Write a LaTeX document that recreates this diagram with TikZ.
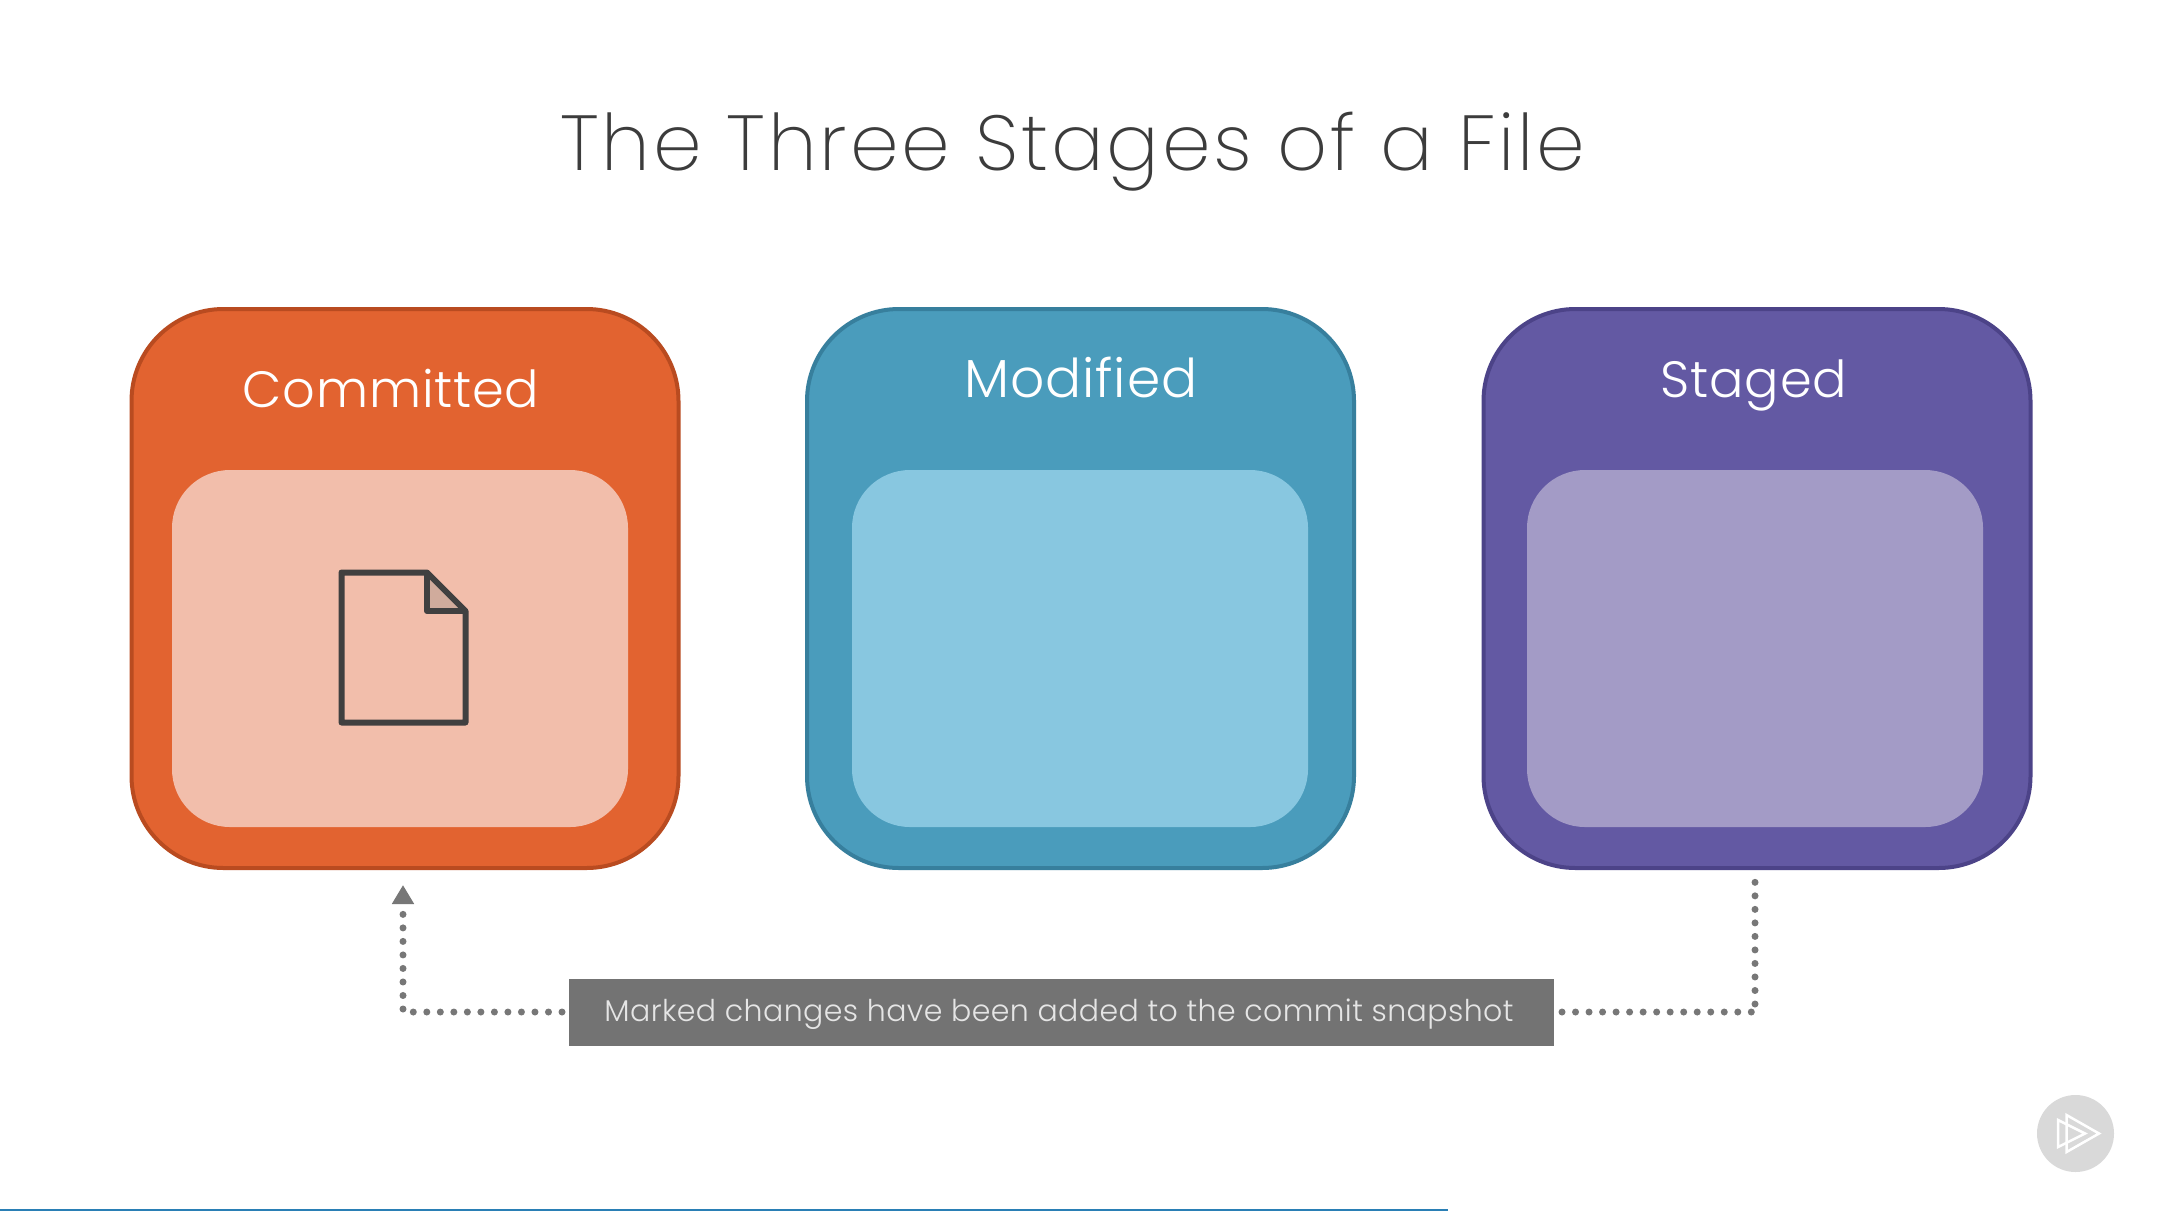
\documentclass[tikz,border=0pt]{standalone}
\usepackage{fontspec}
\setmainfont{Poppins}[UprightFont=* Light]
\newfontfamily\titlefont{Poppins}[UprightFont=* ExtraLight,LetterSpace=3.7]
\newfontfamily\labelfont{Poppins}[UprightFont=* Light,LetterSpace=1.5]
\newfontfamily\notefont{Poppins}[UprightFont=* Light,LetterSpace=1.4]
\usetikzlibrary{arrows.meta}
\definecolor{orangeF}{HTML}{E26330}
\definecolor{orangeB}{HTML}{B94B20}
\definecolor{orangeI}{HTML}{F2BEAB}
\definecolor{blueF}{HTML}{4A9CBC}
\definecolor{blueB}{HTML}{377F9D}
\definecolor{blueI}{HTML}{88C7E0}
\definecolor{purpF}{HTML}{6359A3}
\definecolor{purpB}{HTML}{4C4388}
\definecolor{purpI}{HTML}{A39BC6}
\definecolor{noteG}{HTML}{737373}
\definecolor{dotG}{HTML}{777777}
\definecolor{titleG}{HTML}{3C3C3C}
\definecolor{docG}{HTML}{404040}
\definecolor{foldG}{HTML}{D0AB9C}
\definecolor{badgeG}{HTML}{D9D9D9}
\definecolor{barB}{HTML}{2A7FB5}
\tikzset{
  x=1pt,y=-1pt,
  outerbox/.style={rectangle,rounded corners=92pt,inner sep=0pt,line width=4pt,minimum width=547pt,minimum height=559pt},
  innerbox/.style={rectangle,rounded corners=58pt,inner sep=0pt,minimum width=456pt,minimum height=357pt},
  boxlabel/.style={anchor=base,inner sep=0pt,text=white,font=\labelfont\fontsize{51}{60}\selectfont},
  dotline/.style={draw=dotG,line width=7pt,line cap=round,dash pattern=on 0pt off 13.52pt},
  docline/.style={draw=docG,line width=6pt,line join=round},
  badgeline/.style={draw=white,line width=2.5pt,line join=miter}
}
\begin{document}
\begin{tikzpicture}
\useasboundingbox (0,0) rectangle (2159,1211);
\fill[white] (0,0) rectangle (2159,1211);
\node[anchor=base,inner sep=0pt,text=titleG,font=\titlefont\fontsize{78}{90}\selectfont] (title) at (1073,170) {The Three Stages of a File};
\node[outerbox,fill=orangeF,draw=orangeB] (committed) at (405,588.5) {};
\node[innerbox,fill=orangeI] (committedin) at (400,648.5) {};
\node[boxlabel] (committedlabel) at (391,407) {Committed};
\node[outerbox,fill=blueF,draw=blueB] (modified) at (1080.5,588.5) {};
\node[innerbox,fill=blueI] (modifiedin) at (1080,648.5) {};
\node[boxlabel,font=\labelfont\fontsize{53.5}{60}\selectfont] (modifiedlabel) at (1081,397) {Modified};
\node[outerbox,fill=purpF,draw=purpB] (staged) at (1757,588.5) {};
\node[innerbox,fill=purpI] (stagedin) at (1755,648.5) {};
\node[boxlabel] (stagedlabel) at (1754,397) {Staged};
% document icon
\fill[foldG] (427,572.5) -- (465.5,611) -- (427,611) -- cycle;
\draw[docline] (341.5,572.5) -- (427,572.5) -- (465.5,611) -- (465.5,722.5) -- (341.5,722.5) -- cycle;
\draw[docline] (427,572.5) -- (427,611) -- (465.5,611);
% note
\node[rectangle,fill=noteG,inner sep=0pt,minimum width=985pt,minimum height=67pt] (note) at (1061.5,1012) {};
\node[anchor=base,inner sep=0pt,text=white!90!black,font=\notefont\fontsize{30}{36}\selectfont] (notetext) at (1059,1021) {Marked changes have been added to the commit snapshot};
% connectors
\coordinate (leftstart) at (562,1012);
\coordinate (leftend) at (411,1012);
\coordinate (leftup) at (403,1009);
\coordinate (lefttip) at (403,885);
\coordinate (rightstart) at (1562,1012);
\coordinate (rightend) at (1753,1012);
\coordinate (rightup) at (1755,1004);
\coordinate (righttop) at (1755,880);
\draw[dotline] (leftstart) -- (leftend);
\draw[dotline,-{Triangle[length=19pt,width=21pt,fill=dotG]}] (leftup) -- (lefttip);
\draw[dotline] (rightstart) -- (rightend);
\draw[dotline] (rightup) -- (righttop);
% badge
\node[circle,fill=badgeG,inner sep=0pt,minimum size=77pt] (badge) at (2075.5,1133.5) {};
\draw[badgeline] (2058,1120) -- (2085,1133.5) -- (2058,1147) -- cycle;
\draw[badgeline] (2066.5,1115) -- (2099,1133.5) -- (2066.5,1152) -- cycle;
% progress bar
\coordinate (barstart) at (0,1210);
\coordinate (barend) at (1448,1210);
\draw[barB,line width=2pt] (barstart) -- (barend);
\end{tikzpicture}
\end{document}
